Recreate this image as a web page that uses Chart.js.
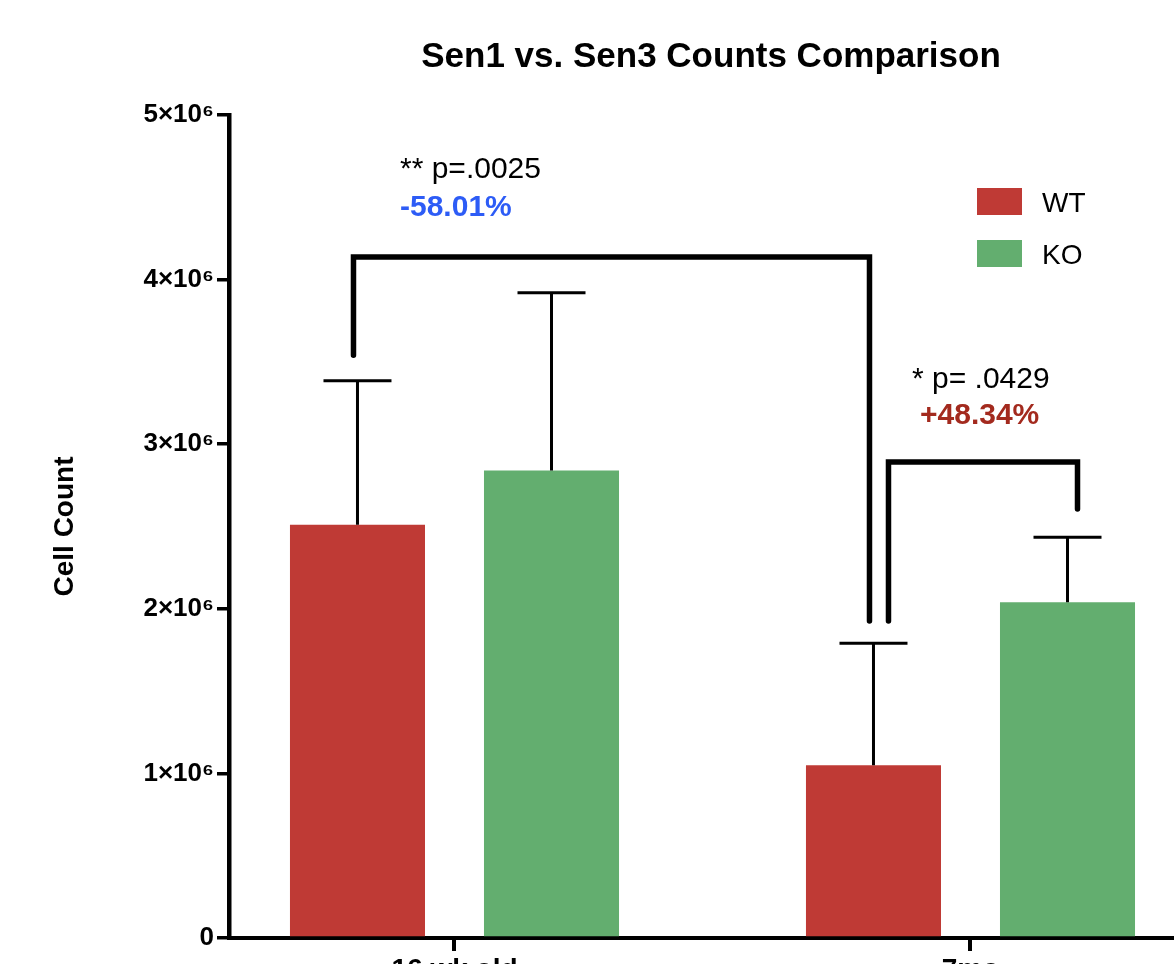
<!DOCTYPE html>
<html>
<head>
<meta charset="utf-8">
<script src="https://cdn.jsdelivr.net/npm/chart.js@4.4.1/dist/chart.umd.min.js"></script>
<style>
  html, body { margin: 0; padding: 0; background: #fff; overflow: hidden; }
  #wrap { position: absolute; left: 0; top: 0; width: 1200px; height: 1000px; }
</style>
</head>
<body>
<div id="wrap"><canvas id="countChart" width="1200" height="1000"></canvas></div>
<script>
const categories = ['16 wk old', '7mo'];
const seriesNames = ['WT', 'KO'];
const wtValues = [2.51e6, 1.05e6];
const koValues = [2.84e6, 2.04e6];
const wtErrors = [0.875e6, 0.74e6];
const koErrors = [1.08e6, 0.395e6];
const yTicks = [0, 1e6, 2e6, 3e6, 4e6, 5e6];

// significance brackets: which bars they join, bracket height and leg ends (data units)
const brackets = [
  { from: [0, 0], to: [0, 1], top: 4.137e6, leftEnd: 3.54e6, rightEnd: 1.926e6, dx: [-4, -4] },
  { from: [0, 1], to: [1, 1], top: 2.892e6, leftEnd: 1.926e6, rightEnd: 2.606e6, dx: [15, 10] },
];

const FONT = "'Liberation Sans', Arial, Helvetica, sans-serif";
const red = '#bf3a35';
const green = '#63ae6f';

const toPoints = (vals) => vals.map((v, i) => ({ x: i, y: v }));

const overlay = {
  id: 'overlay',
  afterDatasetsDraw(chart) {
    const { ctx, scales: { y } } = chart;
    const errs = [wtErrors, koErrors];

    // error bars (upper only)
    ctx.save();
    ctx.strokeStyle = '#000';
    ctx.lineWidth = 3;
    chart.data.datasets.forEach((ds, di) => {
      chart.getDatasetMeta(di).data.forEach((bar, i) => {
        const yTop = y.getPixelForValue(ds.data[i].y + errs[di][i]);
        ctx.beginPath();
        ctx.moveTo(bar.x, bar.y);
        ctx.lineTo(bar.x, yTop);
        ctx.moveTo(bar.x - 34, yTop);
        ctx.lineTo(bar.x + 34, yTop);
        ctx.stroke();
      });
    });

    // brackets
    ctx.lineWidth = 5.5;
    ctx.lineCap = 'round';
    ctx.lineJoin = 'miter';
    brackets.forEach((b) => {
      const x1 = chart.getDatasetMeta(b.from[0]).data[b.from[1]].x + b.dx[0];
      const x2 = chart.getDatasetMeta(b.to[0]).data[b.to[1]].x + b.dx[1];
      ctx.beginPath();
      ctx.moveTo(x1, y.getPixelForValue(b.leftEnd));
      ctx.lineTo(x1, y.getPixelForValue(b.top));
      ctx.lineTo(x2, y.getPixelForValue(b.top));
      ctx.lineTo(x2, y.getPixelForValue(b.rightEnd));
      ctx.stroke();
    });
    ctx.restore();
  },
  afterDraw(chart) {
    const { ctx } = chart;
    ctx.save();
    ctx.textBaseline = 'alphabetic';

    // title
    ctx.fillStyle = '#000';
    ctx.textAlign = 'center';
    ctx.font = `bold 35px ${FONT}`;
    ctx.fillText('Sen1 vs. Sen3 Counts Comparison', 711, 67);

    // p-values
    ctx.textAlign = 'left';
    ctx.font = `30px ${FONT}`;
    ctx.fillText('** p=.0025', 400, 178);
    ctx.fillText('* p= .0429', 912, 388);
    ctx.font = `bold 30px ${FONT}`;
    ctx.fillStyle = '#2d5cf6';
    ctx.fillText('-58.01%', 400, 216);
    ctx.fillStyle = '#a32a1e';
    ctx.fillText('+48.34%', 920, 424);

    // legend
    ctx.font = `28px ${FONT}`;
    chart.data.datasets.forEach((ds, i) => {
      const top = 188 + i * 52;
      ctx.fillStyle = ds.backgroundColor;
      ctx.fillRect(977, top, 45, 27);
      ctx.fillStyle = '#000';
      ctx.fillText(ds.label, 1042, top + 24);
    });
    ctx.restore();
  },
};

new Chart(document.getElementById('countChart'), {
  type: 'bar',
  data: {
    datasets: [
      { label: seriesNames[0], data: toPoints(wtValues), backgroundColor: red },
      { label: seriesNames[1], data: toPoints(koValues), backgroundColor: green },
    ],
  },
  options: {
    responsive: false,
    animation: false,
    categoryPercentage: 0.752,
    barPercentage: 0.696,
    layout: { padding: { top: 115, left: 0, right: 10, bottom: 0 } },
    plugins: {
      legend: { display: false },
      title: { display: false },
      tooltip: { enabled: false },
    },
    scales: {
      x: {
        type: 'linear',
        offset: false,
        min: -0.437,
        max: 1.4254,
        afterBuildTicks: (scale) => {
          scale.ticks = categories.map((c, i) => ({ value: i }));
        },
        afterFit: (scale) => { scale.height = 62; },
        ticks: {
          callback: (v) => categories[v] ?? '',
          color: '#000',
          padding: 2,
          maxRotation: 0,
          autoSkip: false,
          font: { family: FONT, size: 28, weight: 'bold' },
        },
        grid: {
          display: true,
          offset: false,
          drawOnChartArea: false,
          drawTicks: true,
          tickLength: 13,
          lineWidth: 4,
          color: '#000',
        },
        border: { display: true, color: '#000', width: 4 },
      },
      y: {
        min: 0,
        max: 5e6,
        afterBuildTicks: (scale) => {
          scale.ticks = yTicks.map((v) => ({ value: v }));
        },
        afterFit: (scale) => { scale.width = 229; },
        ticks: {
          callback: (v) => (v === 0 ? '0' : `${v / 1e6}×10⁶`),
          color: '#000',
          padding: 3,
          font: { family: FONT, size: 26, weight: 'bold' },
        },
        grid: {
          display: true,
          drawOnChartArea: false,
          drawTicks: true,
          tickLength: 12,
          lineWidth: 3.5,
          color: '#000',
        },
        border: { display: true, color: '#000', width: 4.5 },
        title: {
          display: true,
          text: 'Cell Count',
          color: '#000',
          padding: { top: 48, bottom: 0 },
          font: { family: FONT, size: 28, weight: 'bold' },
        },
      },
    },
  },
  plugins: [overlay],
});
</script>
</body>
</html>
